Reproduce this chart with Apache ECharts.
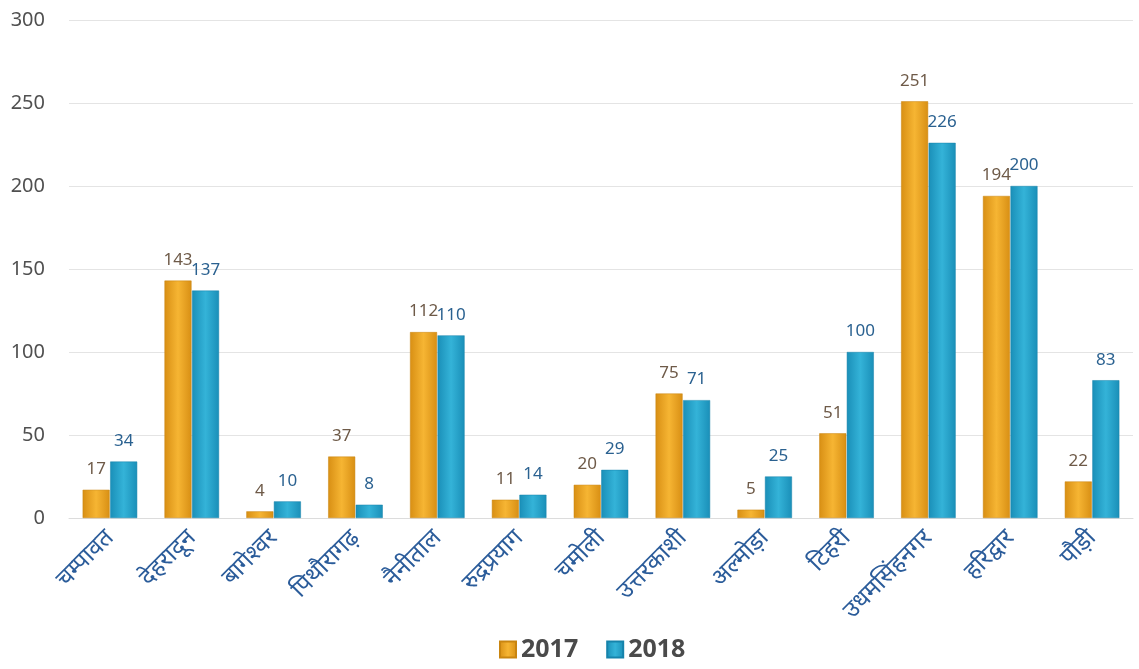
<!DOCTYPE html>
<html>
<head>
<meta charset="utf-8">
<script src="https://cdn.jsdelivr.net/npm/echarts@6/dist/echarts.min.js"></script>
<style>
    html, body { margin: 0; padding: 0; background: #fff; }
    #chart { width: 1139px; height: 669px; }
</style>
</head>
<body>
<div id="chart"></div>
<script>
// districts (x axis)
var districts = ['चम्पावत', 'देहरादून', 'बागेश्वर', 'पिथौरागढ़', 'नैनीताल', 'रुद्रप्रयाग', 'चमोली',
    'उत्तरकाशी', 'अल्मोड़ा', 'टिहरी', 'उधमसिंहनगर', 'हरिद्वार', 'पौड़ी'];
var values2017 = [17, 143, 4, 37, 112, 11, 20, 75, 5, 51, 251, 194, 22];
var values2018 = [34, 137, 10, 8, 110, 14, 29, 71, 25, 100, 226, 200, 83];
var yTicks = [0, 50, 100, 150, 200, 250, 300];

var fontFamily = '"Noto Sans", "Open Sans", sans-serif';

/**
 * bar fill - darker edges, lighter middle
 */
function barFill(edge, mid) {
    return new echarts.graphic.LinearGradient(0, 0, 1, 0, [
        {offset: 0, color: edge},
        {offset: 0.5, color: mid},
        {offset: 1, color: edge}
    ]);
}
var orangeFill = barFill('#d88f14', '#f6b533');
var blueFill = barFill('#1a8fb8', '#34b3d8');

var chart = echarts.init(document.getElementById('chart'));

var option = {
    backgroundColor: '#fff',
    animation: false,
    grid: {
        left: 69,
        right: 6,
        top: 20,
        bottom: 151
    },
    legend: {
        bottom: 2,
        left: 494,
        itemWidth: 16,
        itemHeight: 16,
        itemGap: 28,
        icon: 'rect',
        textStyle: {
            fontFamily: fontFamily,
            fontSize: 25,
            fontWeight: 'bold',
            color: '#4a4a4a'
        },
        data: ['2017', '2018']
    },
    xAxis: {
        type: 'category',
        data: districts,
        axisLine: {lineStyle: {color: '#dcdcdc'}},
        axisTick: {show: false},
        axisLabel: {
            rotate: 45,
            interval: 0,
            margin: 16,
            fontFamily: fontFamily,
            fontSize: 24,
            color: '#2b5c9a'
        }
    },
    yAxis: {
        type: 'value',
        min: yTicks[0],
        max: yTicks[yTicks.length - 1],
        interval: 50,
        axisLine: {show: false},
        axisTick: {show: false},
        axisLabel: {
            margin: 24,
            fontFamily: fontFamily,
            fontSize: 20,
            color: '#505050'
        },
        splitLine: {lineStyle: {color: '#e4e4e4'}}
    },
    series: [
        {
            name: '2017',
            type: 'bar',
            data: values2017,
            barWidth: 27,
            barGap: '2%',
            itemStyle: {color: orangeFill, borderColor: '#c98510', borderWidth: 0.5},
            label: {
                show: true,
                position: 'top',
                distance: 12,
                fontFamily: fontFamily,
                fontSize: 17,
                color: '#6e5a48'
            }
        },
        {
            name: '2018',
            type: 'bar',
            data: values2018,
            barWidth: 27,
            itemStyle: {color: blueFill, borderColor: '#1683ab', borderWidth: 0.5},
            label: {
                show: true,
                position: 'top',
                distance: 12,
                fontFamily: fontFamily,
                fontSize: 17,
                color: '#2a6190'
            }
        }
    ]
};

chart.setOption(option, true);
</script>
</body>
</html>
